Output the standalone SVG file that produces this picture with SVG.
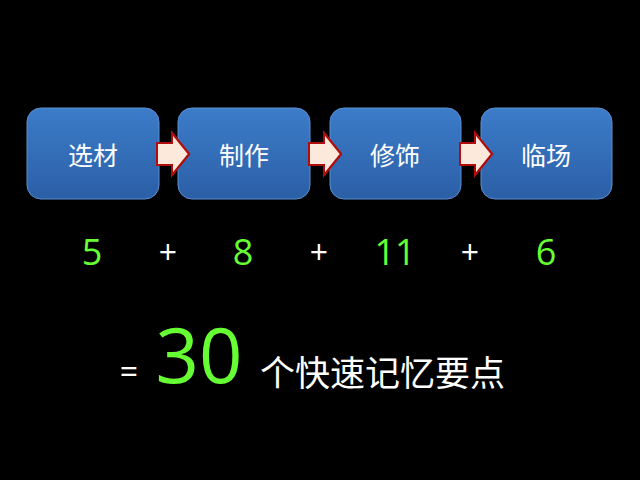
<svg xmlns="http://www.w3.org/2000/svg" width="640" height="480" viewBox="0 0 640 480">
<style>
.box{fill:url(#g);stroke:#5b8fd0;stroke-width:1}
.bt{fill:#fff;font-family:"Noto Sans CJK SC",sans-serif;font-size:25px;text-anchor:middle}
.arr{fill:#fde9dc;stroke:#b01010;stroke-width:2;filter:url(#glow)}
.num{fill:#66ff33;font-family:"Open Sans","Liberation Sans",sans-serif;font-size:36px;text-anchor:middle}
.pl{fill:#fff;font-family:"Open Sans","Liberation Sans",sans-serif;font-size:32px;text-anchor:middle}
</style>
<defs>
<linearGradient id="g" x1="0" y1="0" x2="0" y2="1"><stop offset="0" stop-color="#3c7cc9"/><stop offset="1" stop-color="#2b5fa6"/></linearGradient>
<filter id="glow" x="-30%" y="-30%" width="160%" height="160%"><feGaussianBlur in="SourceAlpha" stdDeviation="1.5" result="b"/><feFlood flood-color="#e02020"/><feComposite operator="in" in2="b"/><feComposite operator="over" in2="SourceGraphic" in="SourceGraphic"/><feMerge><feMergeNode/><feMergeNode in="SourceGraphic"/></feMerge></filter>
</defs>
<rect width="640" height="480" fill="#000"/>
<g id="n1"><rect class="box" x="27" y="108" width="132" height="91" rx="14"/><text class="bt" x="93" y="165">选材</text></g>
<g id="n2"><rect class="box" x="178" y="108" width="132" height="91" rx="14"/><text class="bt" x="244" y="165">制作</text></g>
<g id="n3"><rect class="box" x="330" y="108" width="131" height="91" rx="14"/><text class="bt" x="395" y="165">修饰</text></g>
<g id="n4"><rect class="box" x="481" y="108" width="131" height="91" rx="14"/><text class="bt" x="546" y="165">临场</text></g>
<g id="connectors">
<polygon class="arr" points="157,143 172,143 172,133 189,154 172,175 172,165 157,165"/>
<polygon class="arr" points="309,143 324,143 324,133 341,154 324,175 324,165 309,165"/>
<polygon class="arr" points="460,143 475,143 475,133 492,154 475,175 475,165 460,165"/>
</g>
<text class="num" x="92" y="265">5</text>
<text class="pl" x="168" y="264">+</text>
<text class="num" x="243" y="265">8</text>
<text class="pl" x="319" y="264">+</text>
<text class="num" x="395" y="265">11</text>
<text class="pl" x="470" y="264">+</text>
<text class="num" x="546" y="265">6</text>
<text class="pl" x="129" y="383" font-size="26">=</text>
<text x="199" y="383" fill="#66ff33" font-family="Open Sans,Liberation Sans,sans-serif" font-size="76" text-anchor="middle">30</text>
<text x="260" y="386" fill="#fff" font-family="Noto Sans CJK SC,sans-serif" font-size="35">个快速记忆要点</text>
</svg>
